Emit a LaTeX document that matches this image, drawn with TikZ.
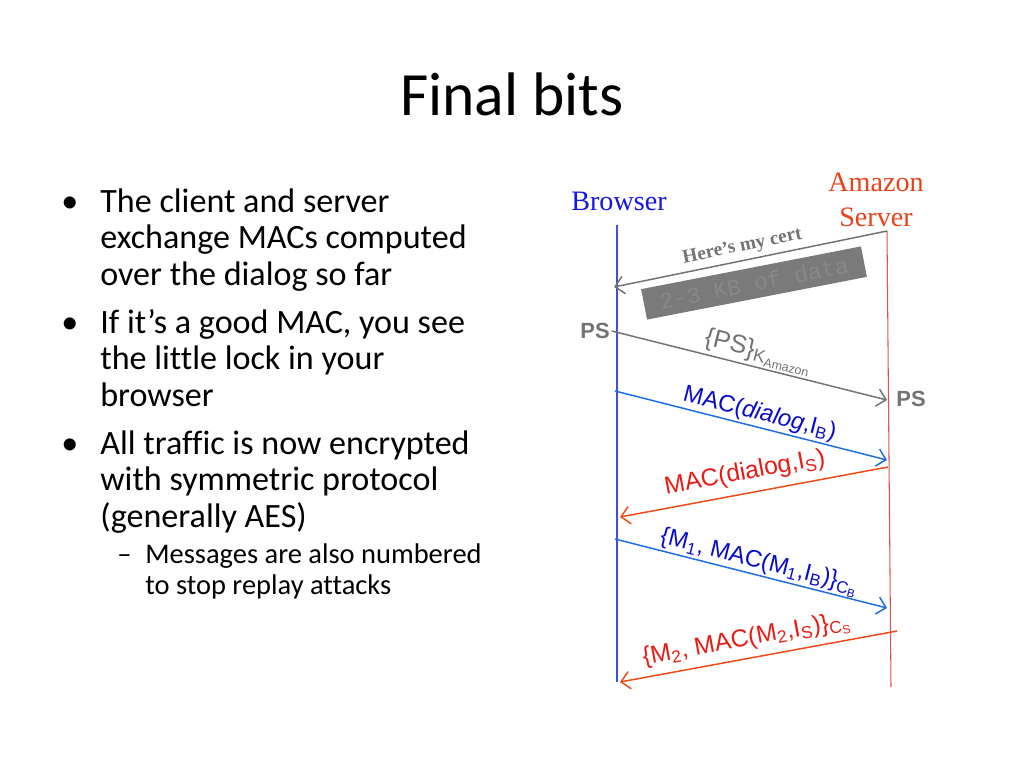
\documentclass[tikz,border=0pt]{standalone}
\usepackage{fontspec}
\setmainfont{Carlito}[Ligatures=NoCommon]
\newfontfamily\timesfont{Liberation Serif}
\newfontfamily\arialfont{Liberation Sans}
\newfontfamily\courfont{Liberation Mono}
\usetikzlibrary{arrows.meta,positioning}

\definecolor{browserblue}{RGB}{20,20,235}
\definecolor{serverred}{RGB}{235,65,25}
\definecolor{lineblue}{RGB}{60,80,230}
\definecolor{linered}{RGB}{225,80,80}
\definecolor{msgblue}{RGB}{30,110,230}
\definecolor{labelblue}{RGB}{10,10,205}
\definecolor{msgred}{RGB}{240,75,25}
\definecolor{labelred}{RGB}{235,25,20}
\definecolor{msggray}{RGB}{115,115,115}
\definecolor{blobgray}{RGB}{122,122,122}
\definecolor{blobtext}{RGB}{136,136,136}

\begin{document}
\begin{tikzpicture}[x=0.02cm,y=-0.02cm,>={Straight Barb[length=5pt,width=10pt]}]
	\tikzstyle{lifeline}=[line width=0.6pt]
	\tikzstyle{party}=[font=\timesfont\fontsize{16}{19.8}\selectfont, align=center]
	\tikzstyle{msg}=[->, line width=0.85pt]
	\tikzstyle{lbl}=[font=\arialfont\fontsize{13.5}{15}\selectfont, sloped, above, inner sep=1pt]
	\tikzstyle{secret}=[font=\arialfont\bfseries\fontsize{12.5}{14}\selectfont, text=msggray, inner sep=1pt]
	\tikzstyle{bullets}=[anchor=base west, inner sep=0pt, font=\fontsize{19.4}{21}\selectfont]
	\tikzstyle{subbullets}=[anchor=base west, inner sep=0pt, font=\fontsize{16.2}{17.8}\selectfont]

	\useasboundingbox (0,0) rectangle (1024,768);

	% Title
	\node[font=\fontsize{35}{40}\selectfont, anchor=base] (title) at (512,115) {Final bits};

	% Bullet list on the left
	\node[bullets] (B-1) at (61,212) {\begin{tabular}[t]{@{}p{0.78cm}@{}l@{}}
		•&The client and server\\&exchange MACs computed\\&over the dialog so far\end{tabular}};
	\node[bullets] (B-2) at (61,333) {\begin{tabular}[t]{@{}p{0.78cm}@{}l@{}}
		•&If it’s a good MAC, you see\\&the little lock in your\\&browser\end{tabular}};
	\node[bullets] (B-3) at (61,454) {\begin{tabular}[t]{@{}p{0.78cm}@{}l@{}}
		•&All traffic is now encrypted\\&with symmetric protocol\\&(generally AES)\end{tabular}};
	\node[subbullets] (S-1) at (117,563) {\begin{tabular}[t]{@{}p{0.56cm}@{}l@{}}
		–&Messages are also numbered\\&to stop replay attacks\end{tabular}};

	% The two parties and their lifelines
	\node[party, text=browserblue] (browser) at (619,201) {Browser};
	\node[party, text=serverred] (server) at (876,200) {Amazon\\Server};
	\coordinate (browser-top) at (617,225);
	\coordinate (browser-bot) at (617,682);
	\coordinate (server-top) at (887,231);
	\coordinate (server-bot) at (891,687);
	\draw[lifeline, lineblue] (browser-top) -- (browser-bot);
	\draw[lifeline, linered] (server-top) -- (server-bot);

	% Message end points on the lifelines
	\foreach \name/\x/\y in {b1/614/287, s2/887/400, b3/615/391, s3/887/460,
		s4/888/467, b4/620/517, b5/615/539, s5/887/608, s6/897/631, b6/620/682}
		\coordinate (\name) at (\x,\y);

	% The pre-master secret on both sides
	\node[secret] (PS-B) at (595,331) {PS};
	\node[secret] (PS-S) at (911,399) {PS};

	% The certificate, with its blob of data
	\draw[msg, msggray] (server-top) -- node[lbl, pos=0.52, above=1.5pt, font=\timesfont\bfseries\fontsize{11}{12}\selectfont, text=msggray] {Here’s my cert} (b1);
	\node[fill=blobgray, rotate=11, minimum width=4.48cm, minimum height=0.62cm, inner sep=0pt,
		font=\courfont\fontsize{13}{14}\selectfont, text=blobtext] (blob) at (754,283) {2-3 KB of data};

	% Client sends the encrypted secret
	\draw[msg, msggray] (PS-B.east) -- node[lbl, pos=0.52, font=\arialfont\fontsize{14.5}{15}\selectfont, text=msggray] {\{PS\}\textsubscript{K\textsubscript{Amazon}}} (s2);

	% Exchange of MACs over the dialog
	\draw[msg, msgblue] (b3) -- node[lbl, pos=0.52, text=labelblue] {MAC(\textit{dialog},I\textsubscript{B})} (s3);
	\draw[msg, msgred] (s4) -- node[lbl, pos=0.52, above=3.5pt, font=\arialfont\fontsize{14}{15}\selectfont, text=labelred] {MAC(dialog,I\textsubscript{S})} (b4);

	% Encrypted, numbered messages
	\draw[msg, msgblue] (b5) -- node[lbl, pos=0.52, inner sep=0pt, text=labelblue] {\{M\textsubscript{1}, MAC(M\textsubscript{1},I\textsubscript{B})\}\textsubscript{C\textsubscript{B}}} (s5);
	\draw[msg, msgred] (s6) -- node[lbl, pos=0.53, above=2pt, font=\arialfont\fontsize{14}{15}\selectfont, text=labelred] {\{M\textsubscript{2}, MAC(M\textsubscript{2},I\textsubscript{S})\}\textsubscript{C\textsubscript{S}}} (b6);

\end{tikzpicture}
\end{document}
